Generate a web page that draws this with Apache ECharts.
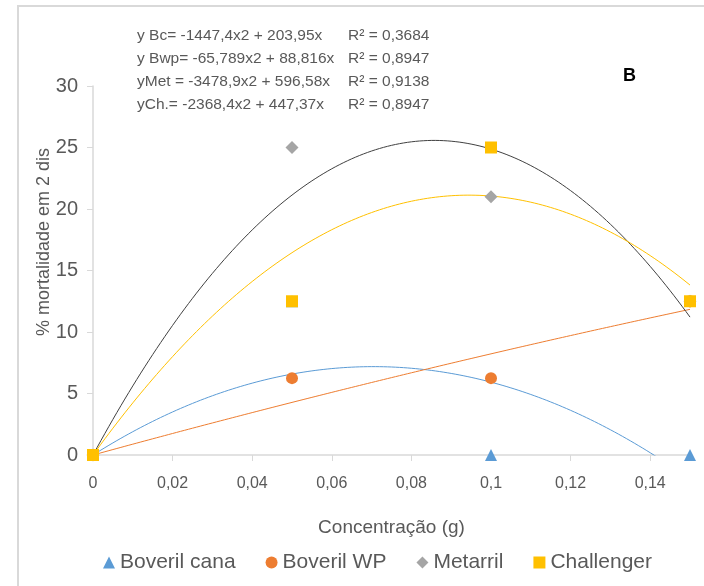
<!DOCTYPE html>
<html><head><meta charset="utf-8">
<script src="https://cdn.jsdelivr.net/npm/echarts@6/dist/echarts.min.js"></script>
<style>html,body{margin:0;padding:0;background:#fff}#c{width:704px;height:586px}</style>
</head><body><div id="c"></div>
<script>
// Data
var seriesNames = ['Boveril cana', 'Boveril WP', 'Metarril', 'Challenger'];
var concentrations = [0, 0.05, 0.1, 0.15];
var boverilCana = [0, 12.5, 0, 0];
var boverilWP = [0, 6.25, 6.25, 12.5];
var metarril = [0, 25, 21, 12.5];
var challenger = [0, 12.5, 25, 12.5];
// Trendline coefficients shown in the chart: y = a*x^2 + b*x
var trendA = [-1447.4, -65.789, -3478.9, -2368.4];
var trendB = [203.95, 88.816, 596.58, 447.37];
var equationLabels = ['y Bc= -1447,4x2 + 203,95x', 'y Bwp= -65,789x2 + 88,816x', 'yMet = -3478,9x2 + 596,58x', 'yCh.= -2368,4x2 + 447,37x'];
var r2Labels = ['R² = 0,3684', 'R² = 0,8947', 'R² = 0,9138', 'R² = 0,8947'];
var yAxisTitle = '% mortalidade em 2 dis';
var xAxisTitle = 'Concentração (g)';
var panelLabel = 'B';

var markerColors = ['#5b9bd5', '#ed7d31', '#a5a5a5', '#ffc000'];
var lineColors = ['#5b9bd5', '#ed7d31', '#404040', '#ffc000'];
var symbols = ['triangle', 'circle', 'diamond', 'rect'];
var symbolSizes = [12, 12, 13, 12];
var values = [boverilCana, boverilWP, metarril, challenger];

function trendPoints(i) {
  var pts = [];
  for (var k = 0; k <= 150; k++) {
    var x = k / 1000;
    pts.push([x, trendA[i] * x * x + trendB[i] * x]);
  }
  return pts;
}

var series = [];
for (var i = 0; i < 4; i++) {
  series.push({
    type: 'line', name: seriesNames[i] + ' trend', data: trendPoints(i),
    showSymbol: false, symbol: 'none', clip: true, silent: true,
    lineStyle: {color: lineColors[i], width: 1}, z: 1
  });
}
for (var j = 0; j < 4; j++) {
  series.push({
    type: 'scatter', name: seriesNames[j],
    data: concentrations.map(function (x, k) { return [x, values[j][k]]; }),
    symbol: symbols[j], symbolSize: symbolSizes[j],
    itemStyle: {color: markerColors[j], opacity: 1}, z: 2, zlevel: j + 1
  });
}

var graphics = [
  {type: 'rect', shape: {x: 18, y: 6, width: 720, height: 620}, style: {fill: 'none', stroke: '#d9d9d9', lineWidth: 2}, silent: true},
  {type: 'text', left: 623, top: 67, style: {text: panelLabel, font: 'bold 18px "Liberation Sans", Arial', fill: '#000'}},
  {type: 'text', x: 44, y: 242, rotation: Math.PI / 2,
    style: {text: yAxisTitle, font: '18px "Liberation Sans", Arial', fill: '#595959', textAlign: 'center', textVerticalAlign: 'middle'}}
];
for (var e = 0; e < 4; e++) {
  graphics.push({type: 'text', left: 137, top: 28 + e * 23, style: {text: equationLabels[e], font: '15.5px "Liberation Sans", Arial', fill: '#595959'}});
  graphics.push({type: 'text', left: 348, top: 28 + e * 23, style: {text: r2Labels[e], font: '15.5px "Liberation Sans", Arial', fill: '#595959'}});
}

var chart = echarts.init(document.getElementById('c'), null, {renderer: 'canvas'});
chart.setOption({
  animation: false,
  textStyle: {fontFamily: '"Liberation Sans", Arial, sans-serif'},
  grid: {left: 93, right: 14, top: 86, bottom: 131, containLabel: false},
  xAxis: {
    type: 'value', min: 0, max: 0.15, interval: 0.02,
    name: xAxisTitle, nameLocation: 'middle', nameGap: 63,
    nameTextStyle: {fontSize: 19, color: '#595959'},
    axisLine: {show: true, lineStyle: {color: '#d9d9d9', width: 1.5}},
    axisTick: {show: true, length: 6, lineStyle: {color: '#d9d9d9'}},
    splitLine: {show: false},
    axisLabel: {showMaxLabel: false, fontSize: 16, color: '#595959', margin: 21,
      formatter: function (v) { return String(Math.round(v * 100) / 100).replace('.', ','); }}
  },
  yAxis: {
    type: 'value', min: 0, max: 30, interval: 5,
    axisLine: {show: true, lineStyle: {color: '#d9d9d9', width: 1.5}},
    axisTick: {show: true, length: 6, lineStyle: {color: '#d9d9d9'}},
    splitLine: {show: false},
    axisLabel: {fontSize: 20, color: '#595959', margin: 15}
  },
  legend: {
    bottom: 8, left: 98, itemGap: 30, itemWidth: 12, itemHeight: 12,
    data: seriesNames.map(function (n, k) { return {name: n, icon: symbols[k]}; }),
    textStyle: {fontSize: 21, color: '#595959'}
  },
  graphic: graphics,
  series: series
});
</script></body></html>
